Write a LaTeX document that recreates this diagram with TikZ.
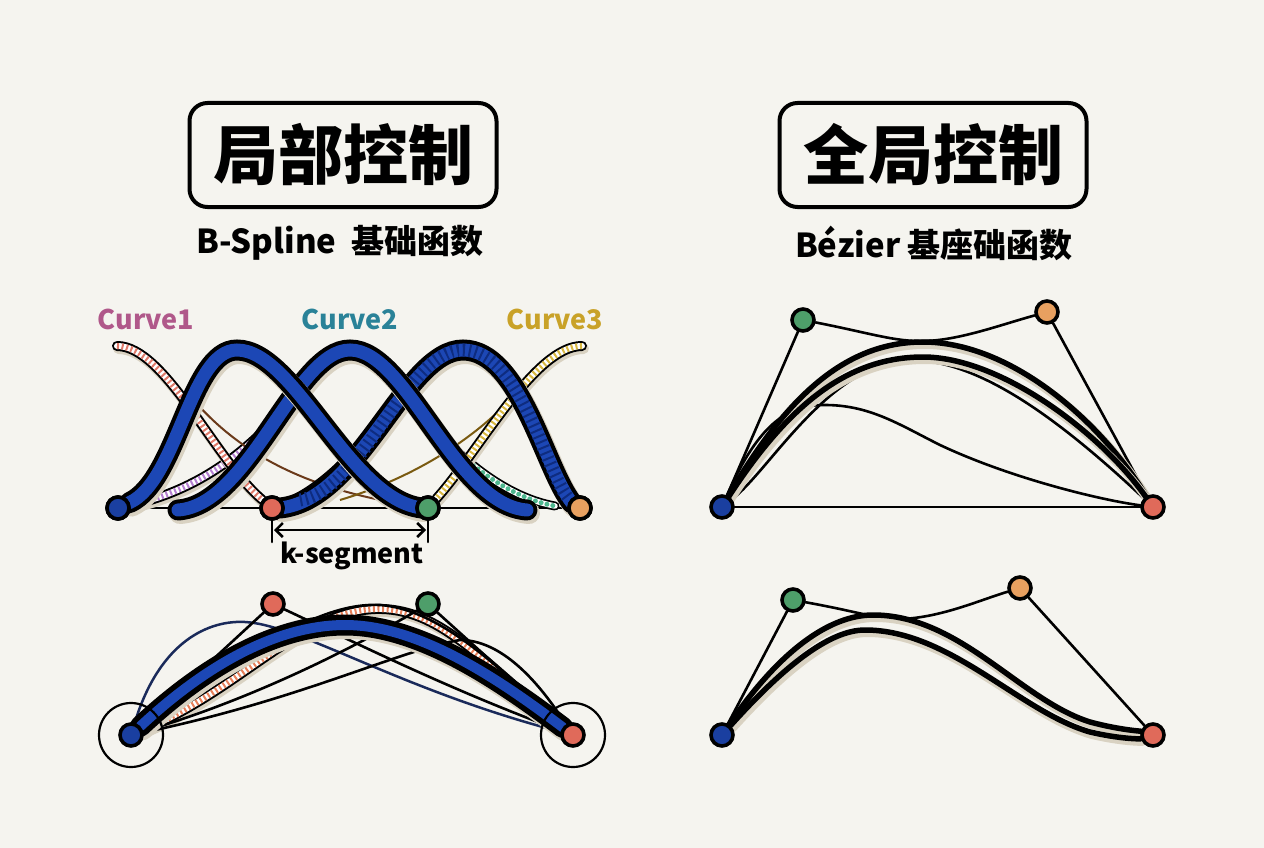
\documentclass[tikz,border=0pt]{standalone}
\usepackage{fontspec}
\newfontfamily\cjk{Noto Sans CJK SC}
\usetikzlibrary{arrows.meta}
\definecolor{bgc}{HTML}{F5F4EF}
\definecolor{bblue}{HTML}{1C47B5}
\definecolor{dblue}{HTML}{1A3FA0}
\definecolor{dred}{HTML}{E06A5A}
\definecolor{dgreen}{HTML}{4E9E6A}
\definecolor{dorange}{HTML}{E8A060}
\definecolor{cone}{HTML}{B0588A}
\definecolor{ctwo}{HTML}{2A8298}
\definecolor{cthree}{HTML}{C9A228}
\definecolor{pinkst}{HTML}{E07A6A}
\definecolor{yelst}{HTML}{D9B840}
\definecolor{tealst}{HTML}{4FB890}
\definecolor{purst}{HTML}{B57FD0}
\definecolor{orst}{HTML}{E8805A}
\definecolor{navy}{HTML}{1A2A5A}
\definecolor{brownl}{HTML}{6B3A1A}
\definecolor{olivel}{HTML}{7A5A10}
\definecolor{shadowc}{HTML}{D9D2C2}
\definecolor{stripeblue}{HTML}{0E2C80}
\pgfdeclarelayer{back}
\pgfdeclarelayer{curves}
\pgfsetlayers{back,curves,main}
\tikzset{
  dot/.style={circle, draw=black, line width=3.6pt, minimum size=22pt, inner sep=0pt},
  ring/.style={circle, draw=black, line width=2.2pt, minimum size=64pt, inner sep=0pt},
  titlebox/.style={draw=black, line width=4pt, rounded corners=18pt, minimum width=307pt, minimum height=104pt, inner sep=0pt, font=\cjk\bfseries\fontsize{65}{65}\selectfont},
  subtitle/.style={font=\cjk\bfseries\fontsize{33}{33}\selectfont, inner sep=0pt},
  clabel/.style={font=\cjk\bfseries\fontsize{27}{27}\selectfont, inner sep=0pt},
  bump/.style={draw=bblue, line width=13pt, line cap=round,
    preaction={draw=shadowc, line width=22pt, line cap=round, transform canvas={shift={(2pt,-3pt)}}},
    preaction={draw=black, line width=21pt, line cap=round}},
  stripeband/.style={draw=#1, line width=6pt, line cap=butt, dash pattern=on 2pt off 2.6pt,
    preaction={draw=shadowc, solid, line width=11pt, line cap=round, transform canvas={shift={(1.5pt,-2.5pt)}}},
    preaction={draw=black, solid, line width=10pt, line cap=round},
    preaction={draw=white, solid, line width=6pt, line cap=round}},
  dotband/.style={draw=#1, line width=5pt, line cap=round, dash pattern=on 0pt off 6pt,
    preaction={draw=black, solid, line width=9pt, line cap=round},
    preaction={draw=white, solid, line width=5.5pt, line cap=round}},
  thin/.style={draw=black, line width=2.6pt, line cap=round},
  thick/.style={draw=black, line width=5.5pt, line cap=round,
    preaction={draw=shadowc, line width=8pt, line cap=round, transform canvas={shift={(2pt,-3pt)}}}},
}
\begin{document}
\begin{tikzpicture}[x=1pt,y=-1pt]
\begin{pgfonlayer}{back}
\fill[bgc] (0,0) rectangle (1264,848);
\end{pgfonlayer}
\useasboundingbox (0,0) rectangle (1264,848);

% ---------- titles ----------
\node[titlebox] (t1) at (343,155) {局部控制};
\node[subtitle] (s1) at (340,243) {B-Spline\ \ 基础函数};
\node[titlebox] (t2) at (933,155) {全局控制};
\node[subtitle] (s2) at (934,243) {Bézier 基座础函数};

% ---------- top left: B-spline bases ----------
\node[clabel, text=cone] (c1) at (146,319) {Curve1};
\node[clabel, text=ctwo] (c2) at (350,319) {Curve2};
\node[clabel, text=cthree] (c3) at (555,319) {Curve3};

\node[dot, fill=dblue] (a1) at (118,508) {};
\node[dot, fill=dred] (a2) at (272,508) {};
\node[dot, fill=dgreen] (a3) at (428,508) {};
\node[dot, fill=dorange] (a4) at (580,508) {};
\coordinate (p1) at (117,346);
\coordinate (p3) at (582,346);

\begin{pgfonlayer}{curves}
\draw[thin] (a1) -- (a4);
\draw[stripeband=purst] (a1) .. controls (190,492) and (240,460) .. (285,408);
\draw[draw=brownl, line width=2pt] (198,405) .. controls (250,462) and (320,492) .. (a3);
\draw[draw=olivel, line width=2pt] (340,500) .. controls (400,482) and (460,450) .. (505,405);
\draw[stripeband=tealst] (305,405) .. controls (340,450) and (380,496) .. (a3);
\draw[dotband=tealst] (a2) .. controls (320,490) and (360,450) .. (390,405);
\draw[dotband=tealst] (415,405) .. controls (450,450) and (500,496) .. (555,506);
\draw[stripeband=pinkst] (p1) .. controls (165,346) and (215,460) .. (a2);
\draw[stripeband=yelst] (p3) .. controls (535,346) and (480,450) .. (a3);
% bump 3 (striped)
\draw[bump] (280,508) .. controls (360,500) and (405,350) .. (463,350) .. controls (520,350) and (545,470) .. (572,503);
\draw[draw=stripeblue, line width=13pt, dash pattern=on 2pt off 4pt] (300,500) .. controls (365,490) and (405,350) .. (463,350) .. controls (520,350) and (545,470) .. (568,498);
% bump 2
\draw[bump] (178,510) .. controls (250,505) and (295,350) .. (350,350) .. controls (407,350) and (455,505) .. (527,510);
% bump 1
\draw[bump] (a1) .. controls (178,480) and (190,350) .. (237,350) .. controls (295,350) and (350,500) .. (422,508);
\end{pgfonlayer}
\node[dot, fill=dblue] at (a1) {};
\node[dot, fill=dred] at (a2) {};
\node[dot, fill=dgreen] at (a3) {};
\node[dot, fill=dorange] at (a4) {};

% k-segment
\draw[thin] ([yshift=-10pt]a2.center) -- ([yshift=-34pt]a2.center);
\draw[thin] ([yshift=-10pt]a3.center) -- ([yshift=-34pt]a3.center);
\draw[line width=2.5pt, {Straight Barb[length=7pt,width=14pt]}-{Straight Barb[length=7pt,width=14pt]}]
  ([xshift=2pt,yshift=-22pt]a2.center) -- ([xshift=-2pt,yshift=-22pt]a3.center);
\node[clabel] (ks) at (352,556) {k-segment};

% ---------- bottom left ----------
\node[dot, fill=dblue] (b1) at (131,735) {};
\node[dot, fill=dred] (b2) at (273,604) {};
\node[dot, fill=dgreen] (b3) at (428,604) {};
\node[dot, fill=dred] (b4) at (573,735) {};
\node[ring] (r1) at (b1) {};
\node[ring] (r2) at (b4) {};
\begin{pgfonlayer}{curves}
\draw[draw=navy, line width=2.5pt] (b1) .. controls (160,640) and (210,620) .. (245,622) .. controls (300,625) and (400,690) .. (b4);
\draw[stripeband=orst] (b1) .. controls (240,690) and (300,612) .. (375,609) .. controls (440,607) and (480,660) .. (b4);
\draw[thin] (b1) .. controls (300,700) and (400,650) .. (460,640) .. controls (510,640) and (550,700) .. (b4);
\draw[thin] (b1) -- (b2);
\draw[thin] (b2) .. controls (350,640) and (450,690) .. (b4);
\draw[thin] (b3) .. controls (350,650) and (250,700) .. (b1);
\draw[thin] (b3) -- (b4);
\draw[thin] (b1) .. controls (250,650) and (320,602) .. (380,605) .. controls (450,610) and (520,690) .. (b4);
\draw[bump, line width=10pt, preaction={draw=black, line width=15pt, line cap=round}] (b1) .. controls (220,652) and (290,625) .. (345,625) .. controls (420,625) and (500,680) .. (b4);
\end{pgfonlayer}

% ---------- top right: Bezier ----------
\node[dot, fill=dblue] (d1) at (722,507) {};
\node[dot, fill=dgreen] (d2) at (803,320) {};
\node[dot, fill=dorange] (d3) at (1047,312) {};
\node[dot, fill=dred] (d4) at (1153,507) {};
\begin{pgfonlayer}{curves}
\draw[thin] (d1) -- (d2);
\draw[thin] (d3) -- (d4);
\draw[thin] (d1) -- (d4);
\draw[thin] (d2) .. controls (870,333) and (895,342) .. (925,341) .. controls (960,340) and (1000,325) .. (d3);
\draw[thin] (d1) .. controls (760,420) and (790,405) .. (825,405) .. controls (870,405) and (900,425) .. (940,445) .. controls (1010,478) and (1100,500) .. (d4);
\draw[thin] (d1) .. controls (770,470) and (830,362) .. (910,360) .. controls (980,360) and (1060,420) .. (d4);
\draw[thick] (d1) .. controls (790,390) and (850,342) .. (923,342) .. controls (1010,342) and (1100,420) .. (d4);
\draw[thick] (d1) .. controls (790,402) and (850,357) .. (923,357) .. controls (1000,357) and (1100,432) .. (d4);
\end{pgfonlayer}

% ---------- bottom right ----------
\node[dot, fill=dblue] (e1) at (722,735) {};
\node[dot, fill=dgreen] (e2) at (793,600) {};
\node[dot, fill=dorange] (e3) at (1020,588) {};
\node[dot, fill=dred] (e4) at (1153,735) {};
\begin{pgfonlayer}{curves}
\draw[thin] (e1) -- (e2);
\draw[thin] (e3) -- (e4);
\draw[thin] (e2) .. controls (860,612) and (880,620) .. (900,619) .. controls (940,618) and (980,600) .. (e3);
\draw[thick] (e1) .. controls (780,650) and (830,615) .. (873,615) .. controls (960,615) and (1020,700) .. (1090,722) .. controls (1120,730) and (1140,731) .. (e4);
\draw[thick] (e1) .. controls (785,665) and (830,630) .. (865,630) .. controls (950,630) and (1020,712) .. (1090,732) .. controls (1120,739) and (1140,739) .. (e4);
\end{pgfonlayer}
\end{tikzpicture}
\end{document}
